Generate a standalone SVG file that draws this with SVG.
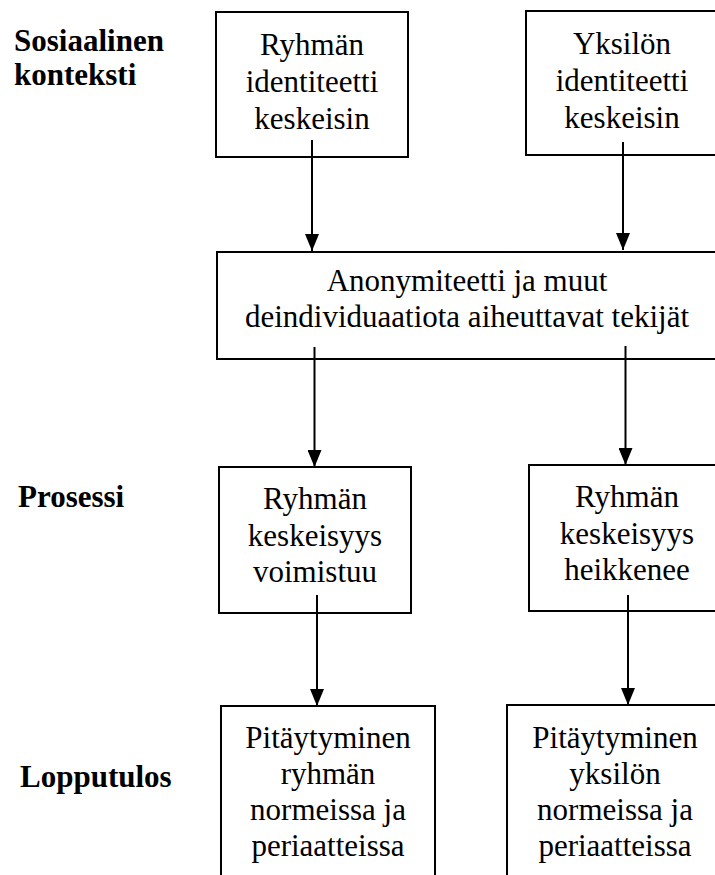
<svg xmlns="http://www.w3.org/2000/svg" width="715" height="875" viewBox="0 0 715 875">
<style>
.box{fill:#fff;stroke:#000;stroke-width:2}
.t{font-family:"Liberation Serif","Times New Roman",serif;font-size:31px;fill:#000;text-anchor:middle}
.lbl{font-family:"Liberation Serif","Times New Roman",serif;font-size:31px;font-weight:bold;fill:#000}
.c{stroke:#000;stroke-width:2;fill:none;marker-end:url(#ah)}
</style>
<defs>
<marker id="ah" markerUnits="userSpaceOnUse" markerWidth="18" markerHeight="14" refX="17" refY="7" orient="auto" viewBox="0 0 18 14">
<path d="M0,0 L17,7 L0,14 Z" fill="#000"/>
</marker>
</defs>
<rect width="715" height="875" fill="#fff"/>
<g id="labels">
<text class="lbl" x="14" y="51">Sosiaalinen</text>
<text class="lbl" x="14" y="85">konteksti</text>
<text class="lbl" x="18" y="507">Prosessi</text>
<text class="lbl" x="20" y="787">Lopputulos</text>
</g>
<g id="n1">
<rect class="box" x="216" y="12" width="192" height="145"/>
<text class="t"><tspan x="312" y="55">Ryhmän</tspan><tspan x="312" y="92">identiteetti</tspan><tspan x="312" y="129">keskeisin</tspan></text>
</g>
<g id="n2">
<rect class="box" x="526" y="11" width="200" height="144"/>
<text class="t"><tspan x="622" y="54">Yksilön</tspan><tspan x="622" y="91">identiteetti</tspan><tspan x="622" y="128">keskeisin</tspan></text>
</g>
<g id="n3">
<rect class="box" x="217" y="252" width="510" height="107"/>
<text class="t"><tspan x="467" y="291">Anonymiteetti ja muut</tspan><tspan x="467" y="327">deindividuaatiota aiheuttavat tekijät</tspan></text>
</g>
<g id="n4">
<rect class="box" x="219" y="467" width="192" height="146"/>
<text class="t"><tspan x="315" y="509">Ryhmän</tspan><tspan x="315" y="546">keskeisyys</tspan><tspan x="315" y="582">voimistuu</tspan></text>
</g>
<g id="n5">
<rect class="box" x="529" y="465" width="200" height="146"/>
<text class="t"><tspan x="627" y="507">Ryhmän</tspan><tspan x="627" y="544">keskeisyys</tspan><tspan x="627" y="580">heikkenee</tspan></text>
</g>
<g id="n6">
<rect class="box" x="221" y="706" width="214" height="190"/>
<text class="t"><tspan x="328" y="748">Pitäytyminen</tspan><tspan x="328" y="784">ryhmän</tspan><tspan x="328" y="820">normeissa ja</tspan><tspan x="328" y="856">periaatteissa</tspan></text>
</g>
<g id="n7">
<rect class="box" x="507" y="705" width="220" height="190"/>
<text class="t"><tspan x="615" y="748">Pitäytyminen</tspan><tspan x="615" y="784">yksilön</tspan><tspan x="615" y="820">normeissa ja</tspan><tspan x="615" y="856">periaatteissa</tspan></text>
</g>
<g id="connectors">
<path class="c" d="M312,140 L312,251"/>
<path class="c" d="M623,142 L623,250"/>
<path class="c" d="M314.5,347 L314.5,467"/>
<path class="c" d="M625.5,346 L625.5,465"/>
<path class="c" d="M317,595 L317,706"/>
<path class="c" d="M628,595 L628,705"/>
</g>
</svg>
